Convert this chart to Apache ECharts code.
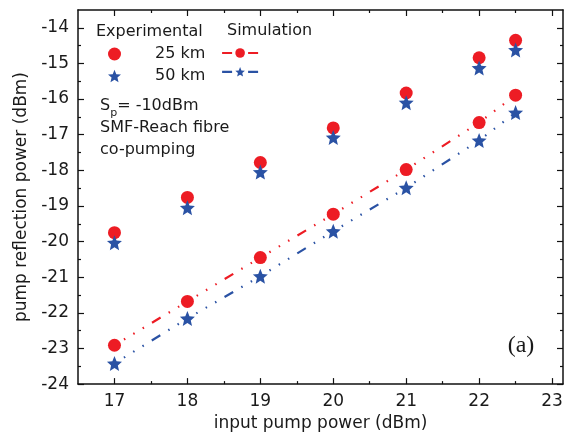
<!DOCTYPE html>
<html>
<head>
<meta charset="utf-8">
<script src="https://cdn.jsdelivr.net/npm/echarts@6/dist/echarts.min.js"></script>
<style>
  html, body { margin: 0; padding: 0; background: #fff; }
  #chart { width: 572px; height: 437px; }
</style>
</head>
<body>
<div id="chart"></div>
<script>
// input pump power (dBm)
var xVals = [17, 18, 19, 20, 21, 22, 22.5];
// experimental points
var exp25 = [-19.75, -18.76, -17.78, -16.81, -15.83, -14.84, -14.35];
var exp50 = [-20.03, -19.05, -18.05, -17.08, -16.10, -15.13, -14.62];
// simulation curves
var sim25 = [-22.91, -21.68, -20.45, -19.23, -17.98, -16.66, -15.89];
var sim50 = [-23.42, -22.16, -20.97, -19.71, -18.49, -17.16, -16.38];

var xMajor = [17, 18, 19, 20, 21, 22, 23];
var xMinor = [17.5, 18.5, 19.5, 20.5, 21.5, 22.5];
var yMajor = [-24, -23, -22, -21, -20, -19, -18, -17, -16, -15, -14];
var yMinor = [-23.5, -22.5, -21.5, -20.5, -19.5, -18.5, -17.5, -16.5, -15.5, -14.5];

var red = '#ED1C24';
var blue = '#2A52A4';
var font = 'DejaVu Sans';
var star = 'path://M50,0 L63.23,31.8 L97.55,34.55 L71.4,56.95 L79.39,90.45 L50,72.5 L20.61,90.45 L28.6,56.95 L2.45,34.55 L36.77,31.8 Z';
var dashDotDot = [10, 9.4, 1.5, 9.4, 1.5, 9.4, 1.5, 9.4, 1.5, 9.4, 1.5, 9.4, 1.5, 9.4];

function pairs(xs, ys) {
    var res = [];
    for (var i = 0; i < xs.length; i++) {
        res.push([xs[i], ys[i]]);
    }
    return res;
}

function xAx(pos, ticks, len, labels, line) {
    return {
        type: 'value', min: 16.5, max: 23.15, position: pos,
        axisLine: { show: line, onZero: false, lineStyle: { color: '#111', width: 1.5 } },
        axisTick: { show: true, inside: true, length: len, customValues: ticks, lineStyle: { color: '#111', width: 1.2 } },
        axisLabel: labels ? {
            show: true, customValues: ticks, margin: 9,
            fontFamily: font, fontSize: 17, color: '#1a1a1a'
        } : { show: false },
        splitLine: { show: false }
    };
}
function yAx(pos, ticks, len, labels, line) {
    return {
        type: 'value', min: -24, max: -13.5, position: pos,
        axisLine: { show: line, onZero: false, lineStyle: { color: '#111', width: 1.5 } },
        axisTick: { show: true, inside: true, length: len, customValues: ticks, lineStyle: { color: '#111', width: 1.2 } },
        axisLabel: labels ? {
            show: true, customValues: ticks, margin: 9,
            fontFamily: font, fontSize: 17, color: '#1a1a1a'
        } : { show: false },
        splitLine: { show: false }
    };
}

var xAxes = [
    xAx('bottom', xMajor, 6, true, true),
    xAx('bottom', xMinor, 3, false, false),
    xAx('top', xMajor, 6, false, true),
    xAx('top', xMinor, 3, false, false)
];
xAxes[0].name = 'input pump power (dBm)';
xAxes[0].nameLocation = 'middle';
xAxes[0].nameGap = 29;
xAxes[0].nameTextStyle = { fontFamily: font, fontSize: 17, color: '#1a1a1a' };

var yAxes = [
    yAx('left', yMajor, 6, true, true),
    yAx('left', yMinor, 3, false, false),
    yAx('right', yMajor, 6, false, true),
    yAx('right', yMinor, 3, false, false)
];
yAxes[0].name = 'pump reflection power (dBm)';
yAxes[0].nameLocation = 'middle';
yAxes[0].nameGap = 47;
yAxes[0].nameTextStyle = { fontFamily: font, fontSize: 17, color: '#1a1a1a' };

var txt = { fontFamily: font, fontSize: 16, fill: '#1a1a1a', verticalAlign: 'middle' };
function label(x, y, s) {
    return { type: 'text', x: x, y: y, style: Object.assign({ text: s }, txt) };
}

var option = {
    animation: false,
    backgroundColor: '#fff',
    grid: { left: 78, top: 10, right: 9, bottom: 50 },
    xAxis: xAxes,
    yAxis: yAxes,
    legend: [{
        data: ['25 km', '50 km'],
        orient: 'vertical',
        left: 108, top: 46, padding: 0,
        itemWidth: 13, itemHeight: 13, itemGap: 6,
        selectedMode: false,
        textStyle: { fontFamily: font, fontSize: 16, color: '#1a1a1a', padding: [0, 0, 0, 29] }
    }, {
        data: ['sim 25 km', 'sim 50 km'],
        orient: 'vertical',
        left: 221, top: 47, padding: 0,
        itemWidth: 36, itemHeight: 12, itemGap: 8,
        selectedMode: false,
        formatter: function () { return ''; },
        lineStyle: { type: [10, 16], dashOffset: 0, width: 2.2 },
        textStyle: { fontSize: 1 }
    }],
    graphic: [
        label(96, 32, 'Experimental'),
        label(227, 31, 'Simulation'),
        {
            type: 'text', x: 100, y: 106,
            style: {
                text: '{a|S}{b|p}{a|= -10dBm}',
                verticalAlign: 'middle',
                rich: {
                    a: { fontFamily: font, fontSize: 16, fill: '#1a1a1a' },
                    b: { fontFamily: font, fontSize: 11, fill: '#1a1a1a', padding: [14, 0, 0, 0] }
                }
            }
        },
        label(100, 128, 'SMF-Reach fibre'),
        label(100, 150, 'co-pumping'),
        {
            type: 'text', x: 521, y: 346,
            style: { text: '(a)', fontFamily: 'Liberation Serif', fontSize: 24, fill: '#1a1a1a',
                     align: 'center', verticalAlign: 'middle' }
        }
    ],
    series: [{
        name: 'sim 25 km',
        type: 'line',
        data: pairs(xVals, sim25),
        symbol: 'circle', symbolSize: 13,
        itemStyle: { color: red },
        lineStyle: { color: red, width: 2.2, type: dashDotDot, dashOffset: 41 },
        z: 2
    }, {
        name: 'sim 50 km',
        type: 'line',
        data: pairs(xVals, sim50),
        symbol: star, symbolSize: 15,
        itemStyle: { color: blue },
        lineStyle: { color: blue, width: 2.2, type: dashDotDot, dashOffset: 41 },
        z: 2
    }, {
        name: '25 km',
        type: 'scatter',
        data: pairs(xVals, exp25),
        symbol: 'circle', symbolSize: 13,
        itemStyle: { color: red, opacity: 1 },
        z: 3
    }, {
        name: '50 km',
        type: 'scatter',
        data: pairs(xVals, exp50),
        symbol: star, symbolSize: 15,
        itemStyle: { color: blue, opacity: 1 },
        z: 4
    }]
};

var chart = echarts.init(document.getElementById('chart'));
chart.setOption(option);
</script>
</body>
</html>
